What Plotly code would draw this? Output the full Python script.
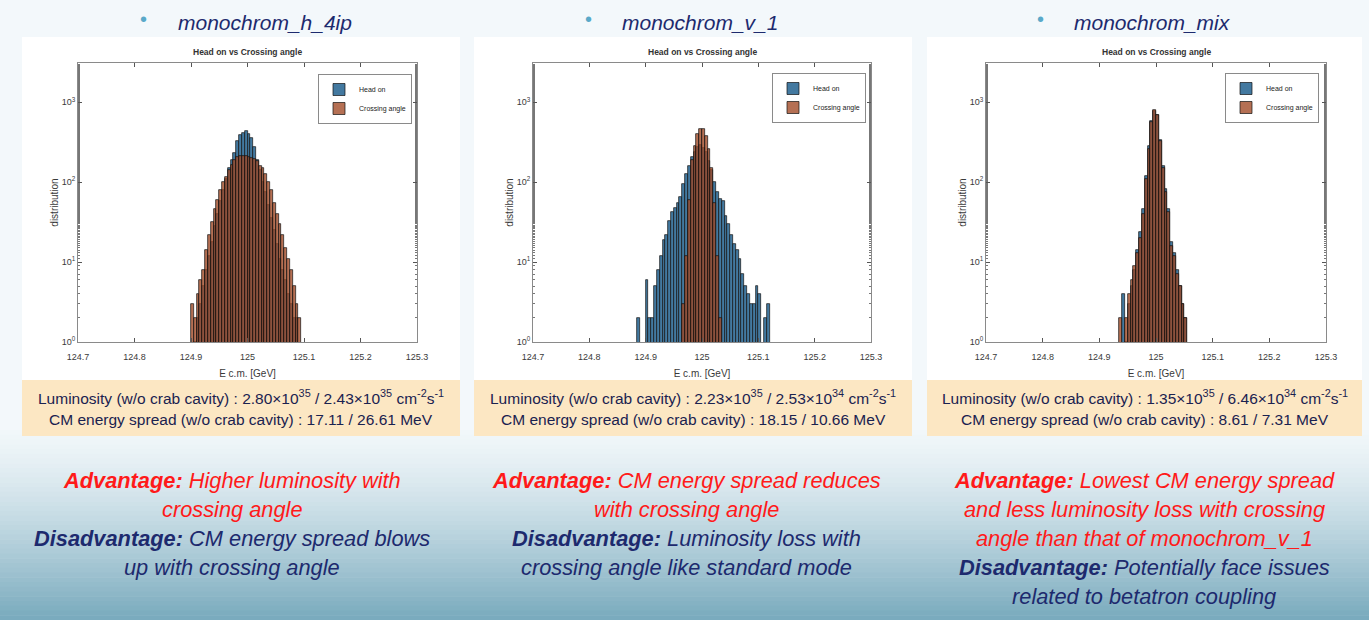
import numpy as np
import plotly.graph_objects as go

W, H = 1369, 620

# Histogram bins (GeV) shared by the three panels
bin_start = 124.88
bin_width = 0.005
n_bins = 49

panel_names = ["monochrom_h_4ip", "monochrom_v_1", "monochrom_mix"]
series_names = ["Head on", "Crossing angle"]

# Counts per bin, log-scale histograms
h4ip_head = [0, 0, 0, 0, 0, 1, 2, 3, 5, 8, 12, 18, 28, 40, 58, 80, 110, 150, 190, 230,
             330, 385, 415, 440, 405, 355, 275, 190, 140, 100, 75, 52, 36, 25, 17, 11, 8, 6, 4, 3,
             2, 2, 0, 0, 0, 0, 0, 0, 0]
h4ip_cross = [0, 0, 0, 0, 3, 2, 4, 6, 8, 14, 22, 32, 46, 60, 80, 100, 115, 140, 165, 190,
              205, 210, 212, 210, 205, 200, 195, 185, 160, 150, 125, 100, 80, 55, 40, 30, 22, 15, 11, 8,
              5, 3, 2, 0, 0, 0, 0, 0, 0]
v1_head = [0, 2, 0, 0, 6, 2, 2, 5, 8, 12, 19, 22, 33, 42, 48, 55, 66, 95, 125, 160,
           205, 240, 275, 290, 270, 235, 185, 140, 100, 75, 62, 58, 38, 30, 22, 17, 14, 11, 7, 5,
           4, 3, 3, 5, 4, 0, 2, 3, 0]
v1_cross = [0] * 17 + [3, 12, 60, 190, 280, 400, 465, 460, 380, 260, 150, 55, 12, 2] + [0] * 18
mix_head = [0] * 11 + [0, 4, 1, 3, 5, 8, 14, 24, 46, 120, 280, 580, 770, 690, 340, 160, 82, 46,
                       18, 13, 8, 5, 3, 2] + [0] * 14
mix_cross = [0] * 11 + [2, 0, 2, 4, 6, 9, 13, 20, 40, 110, 260, 560, 790, 700, 330, 150, 76, 42,
                        16, 12, 7, 5, 3, 2] + [0] * 14

counts = [(h4ip_head, h4ip_cross), (v1_head, v1_cross), (mix_head, mix_cross)]

x_ticks = [124.7, 124.8, 124.9, 125.0, 125.1, 125.2, 125.3]
y_ticks = [1, 10, 100, 1000]
y_ticktext = ["10<sup>0</sup>", "10<sup>1</sup>", "10<sup>2</sup>", "10<sup>3</sup>"]

lumi_lines = [
    "Luminosity (w/o crab cavity) : 2.80×10<sup>35</sup> / 2.43×10<sup>35</sup> cm<sup>-2</sup>s<sup>-1</sup>",
    "Luminosity (w/o crab cavity) : 2.23×10<sup>35</sup> / 2.53×10<sup>34</sup> cm<sup>-2</sup>s<sup>-1</sup>",
    "Luminosity (w/o crab cavity) : 1.35×10<sup>35</sup> / 6.46×10<sup>34</sup> cm<sup>-2</sup>s<sup>-1</sup>",
]
spread_lines = [
    "CM energy spread (w/o crab cavity) : 17.11 / 26.61 MeV",
    "CM energy spread (w/o crab cavity) : 18.15 / 10.66 MeV",
    "CM energy spread (w/o crab cavity) : 8.61 / 7.31 MeV",
]

RED = "#ff1a1a"
NAVY = "#1d2a6e"
comment_lines = [
    [("<b>Advantage:</b> Higher luminosity with", RED), ("crossing angle", RED),
     ("<b>Disadvantage:</b> CM energy spread blows", NAVY), ("up with crossing angle", NAVY)],
    [("<b>Advantage:</b> CM energy spread reduces", RED), ("with crossing angle", RED),
     ("<b>Disadvantage:</b> Luminosity loss with", NAVY), ("crossing angle like standard mode", NAVY)],
    [("<b>Advantage:</b> Lowest CM energy spread", RED), ("and less luminosity loss with crossing", RED),
     ("angle than that of monochrom_v_1", RED),
     ("<b>Disadvantage:</b> Potentially face issues", NAVY), ("related to betatron coupling", NAVY)],
]

centers = np.round(bin_start + bin_width * (np.arange(n_bins) + 0.5), 5)


def px(x):
    return x / W


def py(y):
    return 1 - y / H


NARROW = "Liberation Sans Narrow, Arial Narrow, Liberation Sans, Arial, sans-serif"
SANS = "Liberation Sans, Arial, sans-serif"

# plot areas in pixels: (left, right, top, bottom)
areas = [(78, 417, 63, 342), (533, 871, 63, 342), (986, 1326, 63, 342)]
panels = [(22, 460), (474, 912), (927, 1362)]
legend_pos = [(412, 74), (866, 73), (1319, 73)]
header_x = [(143, 265), (588, 700), (1040, 1152)]
text_cx = [232, 686, 1144]

fig = go.Figure()
layout = dict(
    width=W, height=H, margin=dict(l=0, r=0, t=0, b=0, autoexpand=False),
    paper_bgcolor="#f3f8fb", plot_bgcolor="white",
    barmode="overlay", bargap=0, showlegend=True,
)

shapes = []
# bottom background gradient
top_c = np.array([0xf1, 0xf7, 0xfa])
bot_c = np.array([0x7a, 0xab, 0xbe])
n_str = 40
y_a, y_b = 430, 620
for i in range(n_str):
    t = (i / (n_str - 1)) ** 1.3
    c = (top_c * (1 - t) + bot_c * t).astype(int)
    y0 = y_a + (y_b - y_a) * i / n_str
    y1 = y_a + (y_b - y_a) * (i + 1) / n_str
    shapes.append(dict(type="rect", xref="paper", yref="paper", x0=0, x1=1,
                       y0=py(y1 + 0.5), y1=py(y0), line_width=0,
                       fillcolor="rgb(%d,%d,%d)" % tuple(c), layer="below"))
for (l, r) in panels:
    shapes.append(dict(type="rect", xref="paper", yref="paper", x0=px(l), x1=px(r),
                       y0=py(380), y1=py(37), line_width=0, fillcolor="white", layer="below"))
    shapes.append(dict(type="rect", xref="paper", yref="paper", x0=px(l), x1=px(r),
                       y0=py(436), y1=py(380), line_width=0, fillcolor="#fce7c3", layer="below"))


def note(x, y, text, font):
    return dict(xref="paper", yref="paper", x=px(x), y=py(y), text=text, showarrow=False,
                xanchor="center", yanchor="middle", font=font)


annotations = []
for i in range(3):
    ax = "" if i == 0 else str(i + 1)
    l, r, t, b = areas[i]
    head, cross = counts[i]
    leg = "legend" if i == 0 else "legend%d" % (i + 1)
    fig.add_trace(go.Bar(
        x=centers, y=[v if v > 0 else None for v in head], width=bin_width,
        name=series_names[0], legend=leg,
        marker=dict(color="#4379a0", line=dict(color="#111111", width=0.7)),
        xaxis="x" + ax, yaxis="y" + ax,
    ))
    fig.add_trace(go.Bar(
        x=centers, y=[v if v > 0 else None for v in cross], width=bin_width,
        name=series_names[1], legend=leg,
        marker=dict(color="rgba(160,72,36,0.78)", line=dict(color="#111111", width=0.7)),
        xaxis="x" + ax, yaxis="y" + ax,
    ))
    axis_common = dict(showgrid=False, zeroline=False, showline=True, mirror="allticks",
                       linecolor="#8a8a8a", linewidth=1, ticks="inside", ticklen=4,
                       tickcolor="#555555", tickfont=dict(family=NARROW, size=9, color="#3a3a3a"))
    layout["xaxis" + ax] = dict(
        domain=[px(l), px(r)], anchor="y" + ax, range=[124.7, 125.3],
        tickvals=x_ticks, ticktext=[("%g" % v) for v in x_ticks], ticklabelstandoff=6,
        title=dict(text="E c.m. [GeV]", font=dict(family=NARROW, size=10, color="#3a3a3a"), standoff=9),
        **axis_common)
    layout["yaxis" + ax] = dict(
        domain=[py(b), py(t)], anchor="x" + ax, type="log", range=[0, 3.49],
        tickvals=y_ticks, ticktext=y_ticktext,
        minor=dict(ticks="inside", ticklen=2, tickcolor="#777777", showgrid=False),
        title=dict(text="distribution", font=dict(family=NARROW, size=10, color="#3a3a3a"), standoff=1),
        **axis_common)
    lx, ly = legend_pos[i]
    layout[leg] = dict(x=px(lx), y=py(ly), xanchor="right", yanchor="top",
                       bgcolor="white", bordercolor="#8a8a8a", borderwidth=1,
                       font=dict(family=NARROW, size=7, color="#222222"),
                       tracegroupgap=0, itemwidth=30)
    # subplot title
    annotations.append(note((l + r) / 2, 52, "<b>Head on vs Crossing angle</b>",
                            dict(family=NARROW, size=8.5, color="#333333")))
    # slide header
    bx, tx = header_x[i]
    annotations.append(note(bx, 19, "•", dict(family=SANS, size=20, color="#59a9c9")))
    annotations.append(note(tx, 22, "<i>%s</i>" % panel_names[i], dict(family=SANS, size=21, color=NAVY)))
    # numbers box
    cx = (panels[i][0] + panels[i][1]) / 2
    annotations.append(note(cx, 397, lumi_lines[i], dict(family=SANS, size=15.5, color="#1a2250")))
    annotations.append(note(cx, 419, spread_lines[i], dict(family=SANS, size=15.5, color="#1a2250")))
    # pros / cons
    for j, (txt, col) in enumerate(comment_lines[i]):
        annotations.append(note(text_cx[i], 480 + 29 * j, "<i>%s</i>" % txt,
                                dict(family=SANS, size=21.8, color=col)))

layout["shapes"] = shapes
layout["annotations"] = annotations
fig.update_layout(**layout)
fig.write_html("out.html", post_script="document.body.style.margin='0';")
